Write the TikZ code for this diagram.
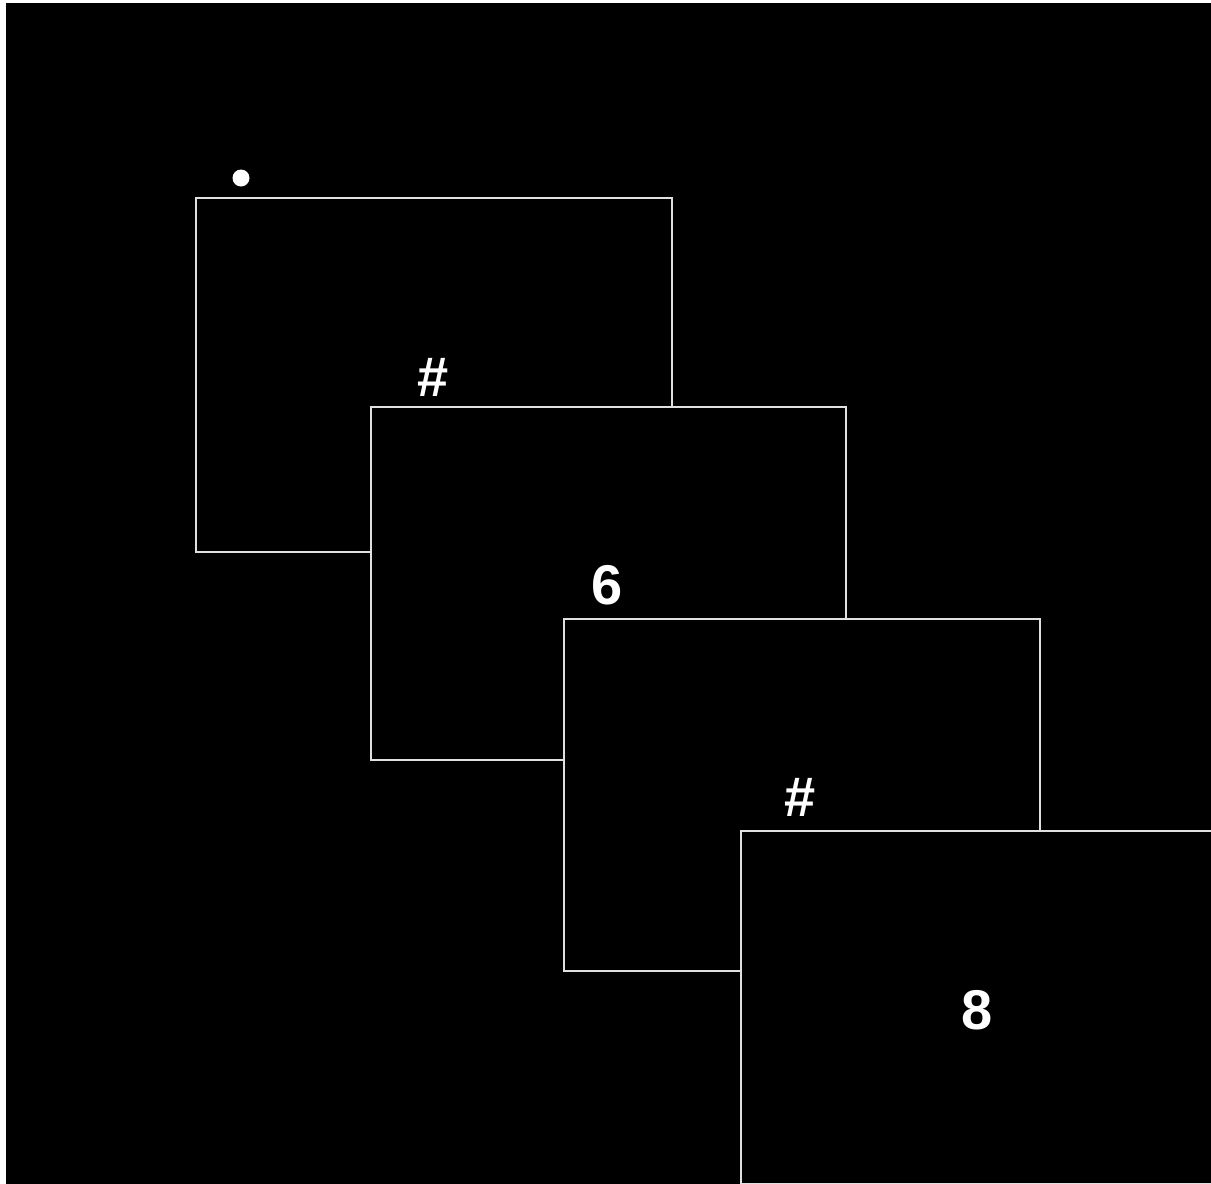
\documentclass[tikz,border=0pt]{standalone}
\usepackage{fontspec}
\setmainfont{Liberation Sans}
\begin{document}
\begin{tikzpicture}[x=1pt,y=-1pt,
  frame/.style={draw=white!88!black,line width=1.6pt,fill=black,inner sep=0pt,outer sep=0pt,anchor=north west},
  lbl/.style={text=white,font=\fontsize{56}{60}\selectfont\bfseries,inner sep=0pt}]
\fill[white] (0,0) rectangle (1211,1184);
\useasboundingbox (0,0) rectangle (1211,1184);
\clip (0,0) rectangle (1211,1184);
\fill[black] (6,3) rectangle (1211,1184);
\fill[white] (241,178) circle (8.5) coordinate (dot);
\node[frame,minimum width=476pt,minimum height=354pt] (r1) at (196,198) {};
\node[lbl] (t1) at (433,377) {\#};
\node[frame,minimum width=475pt,minimum height=353pt] (r2) at (371,407) {};
\node[lbl] (t2) at (607,585) {6};
\node[frame,minimum width=476pt,minimum height=352pt] (r3) at (564,619) {};
\node[lbl] (t3) at (800,797) {\#};
\node[frame,minimum width=476pt,minimum height=353pt] (r4) at (741,831) {};
\node[lbl] (t4) at (977,1010) {8};
\end{tikzpicture}
\end{document}
